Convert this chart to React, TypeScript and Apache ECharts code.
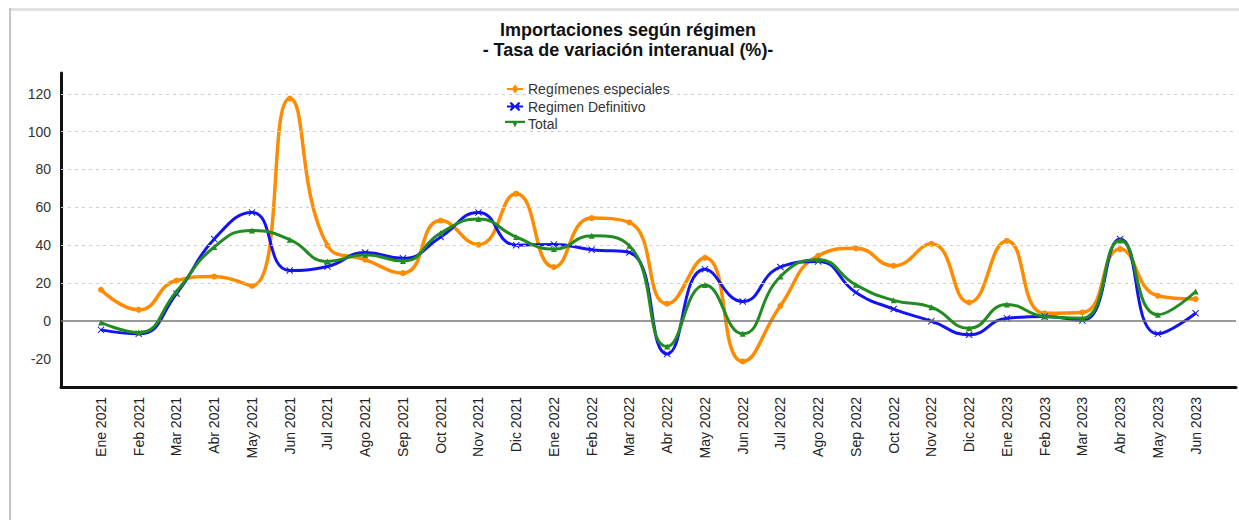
import React, { useEffect, useRef } from "react";
import * as echarts from "echarts";

const months = [
  "Ene 2021", "Feb 2021", "Mar 2021", "Abr 2021", "May 2021", "Jun 2021",
  "Jul 2021", "Ago 2021", "Sep 2021", "Oct 2021", "Nov 2021", "Dic 2021",
  "Ene 2022", "Feb 2022", "Mar 2022", "Abr 2022", "May 2022", "Jun 2022",
  "Jul 2022", "Ago 2022", "Sep 2022", "Oct 2022", "Nov 2022", "Dic 2022",
  "Ene 2023", "Feb 2023", "Mar 2023", "Abr 2023", "May 2023", "Jun 2023",
];

const especiales = [
  16.4, 5.8, 21.3, 23.4, 18.5, 117.5, 39.8, 32.3, 25.2, 53, 40.2, 67.2,
  28.4, 54.3, 52, 9, 33.3, -21.5, 7.9, 34.4, 38.3, 29.1, 40.7, 9.7,
  42.2, 4, 4.4, 37.9, 13.2, 11.5,
];

const definitivo = [
  -4.8, -6.9, 14.3, 43.2, 57.3, 26.6, 28.7, 36.1, 33, 44.3, 57.3, 40,
  40.4, 37.6, 36.1, -17.5, 27.3, 10.2, 28.4, 31.4, 15, 6.2, -0.2, -7.4,
  1.4, 2.3, 0.2, 43.2, -6.9, 4,
];

const total = [
  -0.9, -6.2, 15.5, 39, 47.8, 42.9, 31.4, 34.9, 31.6, 46.4, 53.8, 44.3,
  37.9, 45, 39.7, -13.6, 18.9, -6.9, 23.4, 32.3, 19, 10.8, 7.2, -3.9,
  8.6, 2.3, 1.4, 42.5, 3.2, 15.5,
];

const yTickLabels = [-20, 0, 20, 40, 60, 80, 100, 120];
const gridLineValues = [20, 40, 60, 80, 100, 120];

const seriesNames = ["Regímenes especiales", "Regimen Definitivo", "Total"];

const FONT = '"Liberation Sans", Arial, sans-serif';

export default function App() {
  const ref = useRef<HTMLDivElement>(null);

  useEffect(() => {
    document.body.style.margin = "0";
    if (!ref.current) return;
    const chart = echarts.init(ref.current, null, { renderer: "svg" });

    const toPairs = (arr: number[]) => arr.map((v, i) => [i, v]);

    const xIcon = "path://M0,1L1,0L5,4L9,0L10,1L6,5L10,9L9,10L5,6L1,10L0,9L4,5Z";

    const option: any = {
      animation: false,
      backgroundColor: "#ffffff",
      textStyle: { fontFamily: FONT },
      graphic: [
        { type: "rect", shape: { x: 9, y: 8, width: 1230, height: 3 }, style: { fill: "#e2e2e2" }, silent: true },
        { type: "rect", shape: { x: 9, y: 8, width: 2, height: 512 }, style: { fill: "#c4c4c4" }, silent: true },
        {
          type: "text",
          x: 628,
          y: 30,
          style: {
            text: "Importaciones según régimen",
            textAlign: "center",
            textVerticalAlign: "middle",
            font: `bold 18px ${FONT}`,
            fill: "#111111",
          },
          silent: true,
        },
        {
          type: "text",
          x: 628,
          y: 50,
          style: {
            text: "- Tasa de variación interanual (%)-",
            textAlign: "center",
            textVerticalAlign: "middle",
            font: `bold 18px ${FONT}`,
            fill: "#111111",
          },
          silent: true,
        },
      ],
      legend: {
        orient: "vertical",
        left: 500,
        top: 77,
        itemWidth: 20,
        itemHeight: 9,
        itemGap: 3.5,
        textStyle: { fontSize: 14, color: "#333333", fontFamily: FONT, padding: [0, 0, 0, -2] },
        data: [
          { name: seriesNames[0], icon: "path://M0,4L6,4L9,0L12,4L18,4L18,6L12,6L9,10L6,6L0,6Z" },
          { name: seriesNames[1], icon: "path://M0,4L5,4L3,1L5,0L9,4L13,0L15,1L13,4L18,4L18,6L13,6L15,9L13,10L9,6L5,10L3,9L5,6L0,6Z" },
          { name: seriesNames[2], icon: "path://M0,3L18,3L18,5L11,5L9,9L7,5L0,5Z" },
        ],
      },
      grid: { left: 61, right: 3, top: 73, bottom: 133, containLabel: false },
      xAxis: {
        type: "value",
        min: -1.06,
        max: 30.07,
        axisLine: { onZero: false, lineStyle: { color: "#111111", width: 3 } },
        axisTick: { show: false },
        splitLine: { show: false },
        axisLabel: {
          customValues: months.map((_, i) => i),
          formatter: (v: number) => months[Math.round(v)] ?? "",
          rotate: 90,
          margin: 10,
          fontSize: 14,
          color: "#222222",
          fontFamily: FONT,
        },
      },
      yAxis: {
        type: "value",
        min: -35,
        max: 131,
        axisLine: { show: true, onZero: false, lineStyle: { color: "#111111", width: 3 } },
        axisTick: { show: false },
        splitLine: { show: false },
        axisLabel: {
          customValues: yTickLabels,
          margin: 10,
          fontSize: 14,
          color: "#333333",
          fontFamily: FONT,
        },
      },
      series: [
        {
          name: "grid",
          type: "line",
          data: [],
          z: 1,
          silent: true,
          markLine: {
            silent: true,
            symbol: "none",
            label: { show: false },
            data: [
              ...gridLineValues.map((v) => ({
                yAxis: v,
                lineStyle: { color: "#cfcfcf", width: 1, type: [3, 4] },
              })),
              { yAxis: 0, lineStyle: { color: "#777777", width: 1.5, type: "solid" } },
            ],
          },
        },
        {
          name: seriesNames[0],
          type: "line",
          smooth: 0.5,
          data: toPairs(especiales),
          symbol: "circle",
          symbolSize: 6,
          color: "#FF8C00",
          lineStyle: { width: 3.5, color: "#FF8C00" },
          itemStyle: { color: "#FF8C00" },
          z: 3,
        },
        {
          name: seriesNames[1],
          type: "line",
          smooth: 0.5,
          data: toPairs(definitivo),
          symbol: xIcon,
          symbolSize: 7,
          color: "#1414F0",
          lineStyle: { width: 3, color: "#1414F0" },
          itemStyle: { color: "#1414F0" },
          z: 4,
        },
        {
          name: seriesNames[2],
          type: "line",
          smooth: 0.5,
          data: toPairs(total),
          symbol: "triangle",
          symbolSize: 6,
          color: "#228B22",
          lineStyle: { width: 3, color: "#228B22" },
          itemStyle: { color: "#228B22" },
          z: 5,
        },
      ],
    };

    chart.setOption(option);
    return () => chart.dispose();
  }, []);

  return <div ref={ref} style={{ width: 1239, height: 520 }} />;
}
